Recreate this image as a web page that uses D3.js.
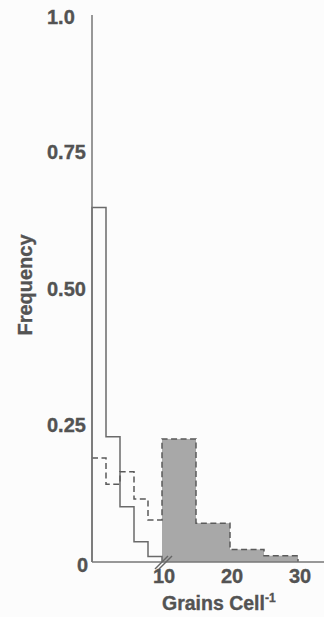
<!DOCTYPE html>
<html>
<head>
<meta charset="utf-8">
<script src="https://cdn.jsdelivr.net/npm/d3@7"></script>
<style>
  html, body { margin: 0; padding: 0; background: #fcfcfc; }
  svg { display: block; }
  text { font-family: "Liberation Sans", Arial, Helvetica, sans-serif; font-weight: bold; fill: #535353; stroke: #535353; stroke-width: 0.35px; }
</style>
</head>
<body>
<svg id="chart" width="324" height="617"></svg>
<script>
// ---- data ----
const leftBinEdges = [0, 2, 4, 6, 8, 10];
const rightBinEdges = [10, 15, 20, 25, 30];
const solidValues = [0.648, 0.229, 0.101, 0.037, 0.010];      // open histogram, solid
const dashedLeftValues = [0.19, 0.142, 0.165, 0.115, 0.077];  // dashed histogram, 0-10
const shadedValues = [0.225, 0.071, 0.023, 0.0115];           // shaded (dashed outline), 10-30
const yTicks = [0, 0.25, 0.5, 0.75, 1.0];
const yTickLabels = ["0", "0.25", "0.50", "0.75", "1.0"];
const xTicks = [10, 20, 30];
const xTickLabels = ["10", "20", "30"];

// ---- scales ----
const x = d3.scaleLinear().domain([0, 10, 30]).range([92, 162, 298]);
const y = d3.scaleLinear().domain([0, 1]).range([562, 15]);

const svg = d3.select("#chart");
const lineColor = "#6a6a6a";

function stepPoints(edges, values, startBase, endBase) {
  const pts = [];
  if (startBase) pts.push([x(edges[0]), y(0)]);
  values.forEach((v, i) => {
    pts.push([x(edges[i]), y(v)]);
    pts.push([x(edges[i + 1]), y(v)]);
  });
  if (endBase) pts.push([x(edges[edges.length - 1]), y(0)]);
  return pts;
}
const line = d3.line();

// shaded area
const areaPts = shadedValues.map((v, i) => ({x0: rightBinEdges[i], x1: rightBinEdges[i + 1], v}));
svg.append("g").selectAll("rect").data(areaPts).join("rect")
  .attr("x", d => x(d.x0))
  .attr("width", d => x(d.x1) - x(d.x0))
  .attr("y", d => y(d.v))
  .attr("height", d => y(0) - y(d.v))
  .attr("fill", "#a8a8a8");

// solid histogram
svg.append("path")
  .attr("d", line(stepPoints(leftBinEdges, solidValues, true, true)))
  .attr("fill", "none")
  .attr("stroke", lineColor)
  .attr("stroke-width", 1.5);

// dashed histogram (continuous across both parts)
const dashEdges = leftBinEdges.concat(rightBinEdges.slice(1));
const dashValues = dashedLeftValues.concat(shadedValues);
svg.append("path")
  .attr("d", line(stepPoints(dashEdges, dashValues, false, true)))
  .attr("fill", "none")
  .attr("stroke", "#5a5a5a")
  .attr("stroke-width", 1.5)
  .attr("stroke-dasharray", "6,3.5");

// axes
svg.append("line")
  .attr("x1", x(0)).attr("x2", x(0))
  .attr("y1", y(1)).attr("y2", y(0))
  .attr("stroke", "#777").attr("stroke-width", 1.5);
svg.append("line")
  .attr("x1", x(0)).attr("x2", 324)
  .attr("y1", y(0)).attr("y2", y(0))
  .attr("stroke", "#777").attr("stroke-width", 1.5);

// axis break marks
[0, 4].forEach(off => {
  svg.append("line")
    .attr("x1", x(10) - 7 + off).attr("y1", y(0) + 7)
    .attr("x2", x(10) + 6 + off).attr("y2", y(0) - 6)
    .attr("stroke", "#666").attr("stroke-width", 1.5);
});

// y tick labels
svg.append("g").selectAll("text").data(yTicks).join("text")
  .attr("x", (d, i) => yTickLabels[i].length === 1 ? 88 : 47)
  .attr("text-anchor", (d, i) => yTickLabels[i].length === 1 ? "end" : "start")
  .attr("y", d => y(d) + (d === 0 ? 3 : d === 1 ? 2 : 0))
  .attr("dy", "0.36em")
  .attr("font-size", 20)
  .text((d, i) => yTickLabels[i]);

// x tick labels
svg.append("g").selectAll("text").data(xTicks).join("text")
  .attr("x", d => x(d) + 2)
  .attr("y", 583)
  .attr("text-anchor", "middle")
  .attr("font-size", 20)
  .text((d, i) => xTickLabels[i]);

// axis titles
svg.append("text")
  .attr("transform", "translate(32,285) rotate(-90)")
  .attr("text-anchor", "middle")
  .attr("font-size", 20)
  .text("Frequency");

const xt = svg.append("text")
  .attr("x", 162)
  .attr("y", 610)
  .attr("font-size", 19.5);
xt.append("tspan").text("Grains Cell");
xt.append("tspan").attr("font-size", 12).attr("dy", -8).text("-1");
</script>
</body>
</html>
